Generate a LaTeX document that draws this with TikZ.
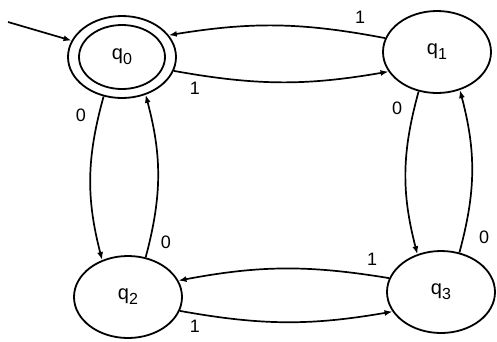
\documentclass[tikz,border=0pt]{standalone}
\usepackage{fontspec}
\setmainfont{Liberation Sans}
\usetikzlibrary{shapes.geometric,arrows.meta}
\newcommand{\qsub}[1]{q\raisebox{-5pt}{\fontsize{16}{18}\selectfont #1}}
\begin{document}
\begin{tikzpicture}[x=1pt,y=-1pt,
  state/.style={draw, ellipse, line width=1.8pt, minimum width=108pt, minimum height=82pt, inner sep=0pt, font=\fontsize{20}{22}\selectfont},
  innerring/.style={draw, ellipse, line width=1.8pt, minimum width=86pt, minimum height=64pt, inner sep=0pt, font=\fontsize{20}{22}\selectfont},
  trans/.style={line width=1.7pt, -{Latex[length=8pt,width=6pt]}},
  lbl/.style={font=\fontsize{18}{20}\selectfont, inner sep=0pt}]
\useasboundingbox (0,0) rectangle (497,341);
\node[state] (q0) at (122,57) {};
\node[innerring] (q0in) at (122,57) {\qsub{0}};
\node[state] (q1) at (437,52) {\qsub{1}};
\node[state] (q2) at (128,297) {\qsub{2}};
\node[state] (q3) at (441,292) {\qsub{3}};
\coordinate (start) at (8,22);
\draw[trans] (start) -- (q0.162);
\draw[trans] (q1.165) to[bend right=10] (q0.25);
\draw[trans] (q0.-15) to[bend right=10] (q1.-158);
\draw[trans] (q0.-115) to[bend right=15] (q2.125);
\draw[trans] (q2.66) to[bend right=15] (q0.-58);
\draw[trans] (q1.-115) to[bend right=15] (q3.122);
\draw[trans] (q3.65) to[bend right=15] (q1.-59);
\draw[trans] (q3.165) to[bend right=10] (q2.18);
\draw[trans] (q2.-15) to[bend right=10] (q3.-158);
\node[lbl] (l1) at (360,17) {1};
\node[lbl] (l2) at (195,88) {1};
\node[lbl] (l3) at (81,115) {0};
\node[lbl] (l4) at (166,242) {0};
\node[lbl] (l5) at (397,108) {0};
\node[lbl] (l6) at (484,237) {0};
\node[lbl] (l7) at (372,259) {1};
\node[lbl] (l8) at (195,326) {1};
\end{tikzpicture}
\end{document}
